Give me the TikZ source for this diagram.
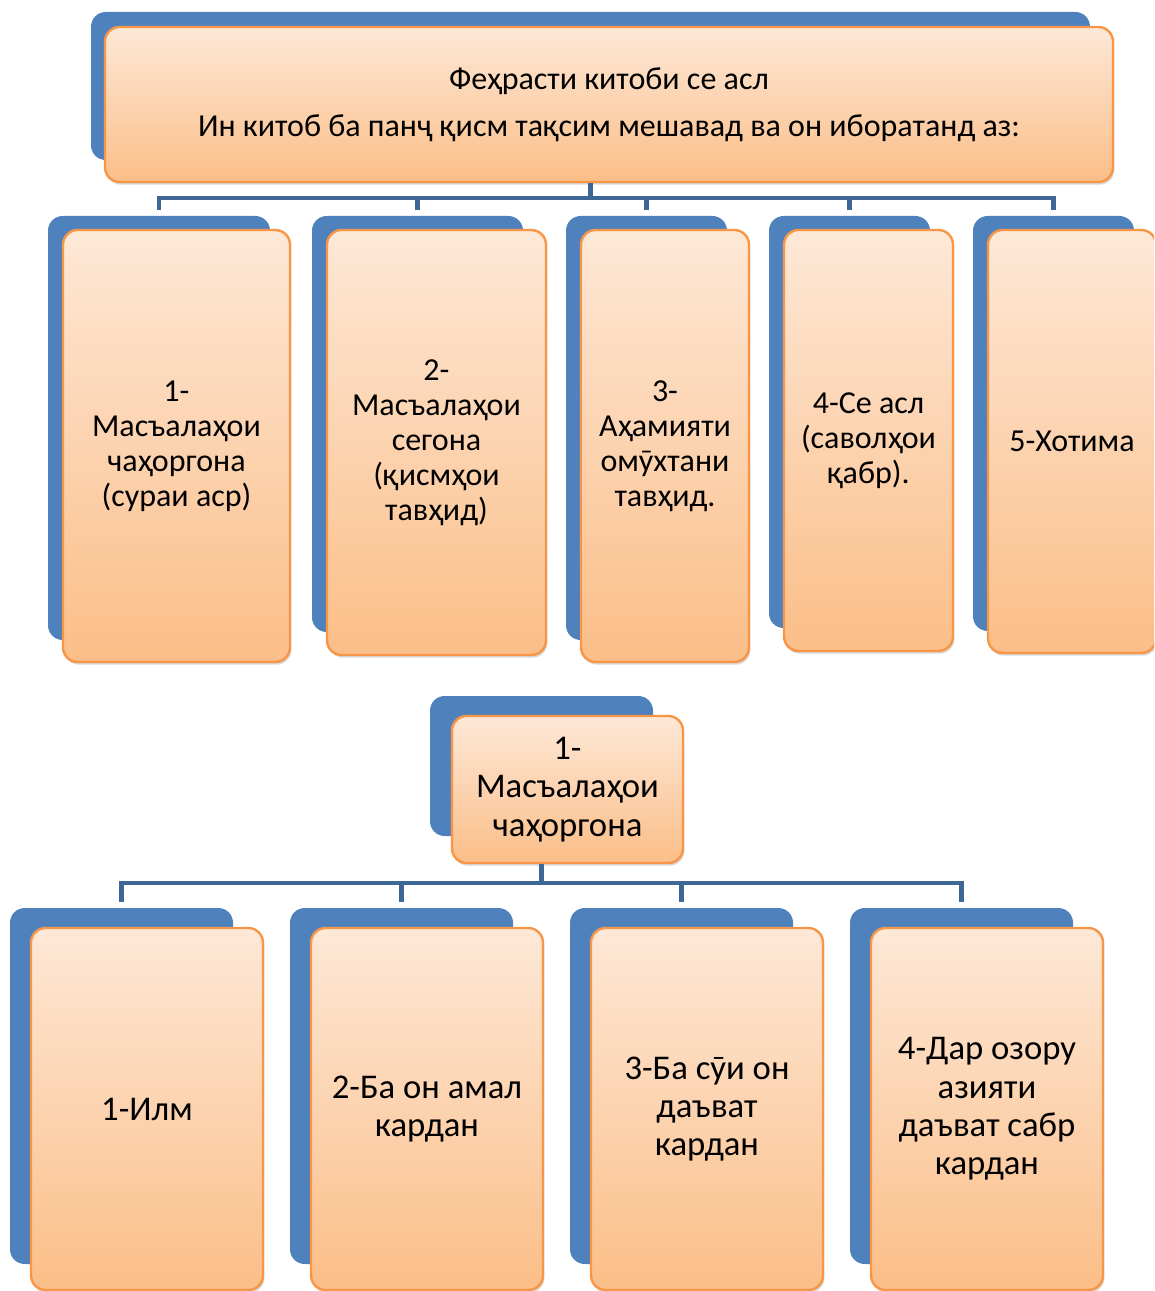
\documentclass[tikz,border=0pt]{standalone}
\usepackage{fontspec}
\setmainfont{Carlito}
\usetikzlibrary{shadows}
\definecolor{backblue}{HTML}{4F81BD}
\definecolor{edgeorange}{HTML}{F79646}
\definecolor{toporange}{HTML}{FDE8D7}
\definecolor{loworange}{HTML}{FBBE88}
\definecolor{linkblue}{HTML}{3F6796}
\tikzset{
  back/.style={fill=backblue, rounded corners=11pt, inner sep=0pt},
  front/.style={draw=edgeorange, line width=1.8pt, rounded corners=11pt,
    top color=toporange, bottom color=loworange, align=center, inner sep=0pt,
    drop shadow={shadow xshift=1pt, shadow yshift=-2pt, opacity=.25, fill=black!60}},
  smalltext/.style={font=\fontsize{24}{26.2}\selectfont},
  largetext/.style={font=\fontsize{26}{28.7}\selectfont},
  link/.style={draw=linkblue, line width=3.4pt},
}
\begin{document}
\begin{tikzpicture}[x=0.75pt,y=-0.75pt]
    \useasboundingbox (0,0) rectangle (1154,1291);
    \clip (0,0) rectangle (1154,1291);
    % upper chart
    \node[back, minimum width=749.25pt, minimum height=111pt] (top) at (590.5,86) {};
    \node[front, smalltext, minimum width=756pt, minimum height=116.25pt] (topf) at (609,104.5)
        {Феҳрасти китоби се асл\\[9pt]Ин китоб ба панҷ қисм тақсим мешавад ва он иборатанд аз:};
    \node[back, minimum width=166.5pt, minimum height=318pt] (p1) at (159,428) {};
    \node[front, smalltext, minimum width=170.25pt, minimum height=324pt] (p1f) at (176.5,446)
        {1-\\Масъалаҳои\\чаҳоргона\\(сураи аср)};
    \node[back, minimum width=158.25pt, minimum height=312pt] (p2) at (417.5,424) {};
    \node[front, smalltext, minimum width=164.25pt, minimum height=318.75pt] (p2f) at (436.5,442.5)
        {2-\\Масъалаҳои\\сегона\\(қисмҳои\\тавҳид)};
    \node[back, minimum width=120.75pt, minimum height=318pt] (p3) at (646.5,428) {};
    \node[front, smalltext, minimum width=126pt, minimum height=324pt] (p3f) at (665,446)
        {3-\\Аҳамияти\\омӯхтани\\тавҳид.};
    \node[back, minimum width=120.75pt, minimum height=309pt] (p4) at (849.5,422) {};
    \node[front, smalltext, minimum width=126.75pt, minimum height=315.75pt] (p4f) at (868.5,440.5)
        {4-Се асл\\(саволҳои\\қабр).};
    \node[back, minimum width=120.75pt, minimum height=311.25pt] (p5) at (1053.5,423.5) {};
    \node[front, smalltext, minimum width=126pt, minimum height=317.25pt] (p5f) at (1072,441.5)
        {5-Хотима};
    \draw[link] (top.south |- topf.south) -- ++(0,15) -| ([yshift=4.5pt]p1.north);
    \draw[link] (top.south |- topf.south) -- ++(0,15) -| ([yshift=4.5pt]p2.north);
    \draw[link] (top.south |- topf.south) -- ++(0,15) -| ([yshift=4.5pt]p3.north);
    \draw[link] (top.south |- topf.south) -- ++(0,15) -| ([yshift=4.5pt]p4.north);
    \draw[link] (top.south |- topf.south) -- ++(0,15) -| ([yshift=4.5pt]p5.north);
    % lower chart
    \node[back, minimum width=167.25pt, minimum height=105pt] (mid) at (541.5,766) {};
    \node[front, largetext, minimum width=173.25pt, minimum height=110.25pt] (midf) at (567.5,789.5)
        {1-\\Масъалаҳои\\чаҳоргона};
    \node[back, minimum width=167.25pt, minimum height=267pt] (q1) at (121.5,1086) {};
    \node[front, largetext, minimum width=174pt, minimum height=271.5pt] (q1f) at (147,1109)
        {1-Илм};
    \node[back, minimum width=167.25pt, minimum height=267pt] (q2) at (401.5,1086) {};
    \node[front, largetext, minimum width=174pt, minimum height=271.5pt] (q2f) at (427,1109)
        {2-Ба он амал\\кардан};
    \node[back, minimum width=167.25pt, minimum height=267pt] (q3) at (681.5,1086) {};
    \node[front, largetext, minimum width=174pt, minimum height=271.5pt] (q3f) at (707,1109)
        {3-Ба сӯи он\\даъват\\кардан};
    \node[back, minimum width=167.25pt, minimum height=267pt] (q4) at (961.5,1086) {};
    \node[front, largetext, minimum width=174pt, minimum height=271.5pt] (q4f) at (987,1109)
        {4-Дар озору\\азияти\\даъват сабр\\кардан};
    \draw[link] (mid.south |- midf.south) -- ++(0,19) -| ([yshift=4.5pt]q1.north);
    \draw[link] (mid.south |- midf.south) -- ++(0,19) -| ([yshift=4.5pt]q2.north);
    \draw[link] (mid.south |- midf.south) -- ++(0,19) -| ([yshift=4.5pt]q3.north);
    \draw[link] (mid.south |- midf.south) -- ++(0,19) -| ([yshift=4.5pt]q4.north);
\end{tikzpicture}
\end{document}
